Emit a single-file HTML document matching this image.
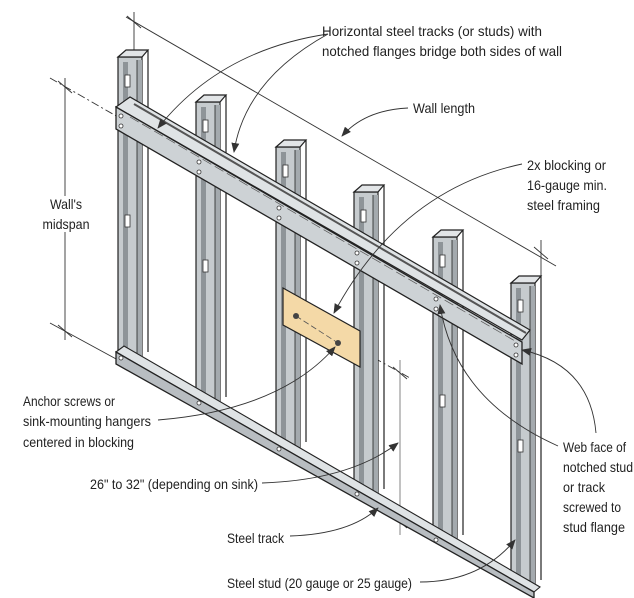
<!DOCTYPE html>
<html><head><meta charset="utf-8"><style>
html,body{margin:0;padding:0;background:#fff;}
svg{display:block;}
text{font-family:"Liberation Sans",sans-serif;font-size:14px;fill:#222;}
</style></head><body>
<svg width="634" height="598" viewBox="0 0 634 598" xmlns="http://www.w3.org/2000/svg">
<defs>
<marker id="ah" markerWidth="10" markerHeight="8" refX="9" refY="4" orient="auto" markerUnits="userSpaceOnUse">
<path d="M0,0 L10,4 L0,8 Z" fill="#333"/>
</marker>
</defs>

<g stroke="#333" stroke-width="0.9" fill="none">
<line x1="126" y1="17" x2="556" y2="266"/>
<line x1="134" y1="12" x2="134" y2="55"/>
<line x1="127" y1="16" x2="141" y2="28"/>
<line x1="541" y1="240" x2="541" y2="283"/>
<line x1="534" y1="247" x2="548" y2="259"/>
<line x1="65" y1="78" x2="65" y2="196"/>
<line x1="65" y1="232" x2="65" y2="340"/>
<line x1="58" y1="81" x2="72" y2="93"/>
<line x1="58" y1="325" x2="72" y2="337"/>
<line x1="50" y1="323" x2="118" y2="360"/>
<line x1="400" y1="360" x2="400" y2="535" stroke="#777"/>
<line x1="393" y1="367" x2="407" y2="379"/>
<line x1="393" y1="516" x2="407" y2="528"/>
</g>
<g stroke="#333" stroke-width="0.9" fill="none" stroke-dasharray="8,3,2,3">
<line x1="50" y1="78" x2="118" y2="117"/>
<line x1="360" y1="350" x2="410" y2="378"/>
</g>

<g stroke="#222" stroke-width="1.2">
<g>
<rect x="118" y="57" width="24" height="300" fill="#c6cbce"/>
<rect x="123" y="62" width="5" height="295" fill="#8e9498" stroke="none"/>
<rect x="137" y="60" width="5" height="297" fill="#a4aaae" stroke="none"/>
<line x1="137" y1="60" x2="137" y2="357" stroke-width="0.8"/>
<polygon points="118,57 126,50 148,50 142,57" fill="#e2e5e7"/>
<line x1="148" y1="50" x2="148" y2="352"/>
</g>
<g>
<rect x="196" y="102" width="24" height="300" fill="#c6cbce"/>
<rect x="201" y="107" width="5" height="295" fill="#8e9498" stroke="none"/>
<rect x="215" y="105" width="5" height="297" fill="#a4aaae" stroke="none"/>
<line x1="215" y1="105" x2="215" y2="402" stroke-width="0.8"/>
<polygon points="196,102 204,95 226,95 220,102" fill="#e2e5e7"/>
<line x1="226" y1="95" x2="226" y2="397"/>
</g>
<g>
<rect x="276" y="147" width="24" height="300" fill="#c6cbce"/>
<rect x="281" y="152" width="5" height="295" fill="#8e9498" stroke="none"/>
<rect x="295" y="150" width="5" height="297" fill="#a4aaae" stroke="none"/>
<line x1="295" y1="150" x2="295" y2="447" stroke-width="0.8"/>
<polygon points="276,147 284,140 306,140 300,147" fill="#e2e5e7"/>
<line x1="306" y1="140" x2="306" y2="442"/>
</g>
<g>
<rect x="354" y="192" width="24" height="302" fill="#c6cbce"/>
<rect x="359" y="197" width="5" height="297" fill="#8e9498" stroke="none"/>
<rect x="373" y="195" width="5" height="299" fill="#a4aaae" stroke="none"/>
<line x1="373" y1="195" x2="373" y2="494" stroke-width="0.8"/>
<polygon points="354,192 362,185 384,185 378,192" fill="#e2e5e7"/>
<line x1="384" y1="185" x2="384" y2="489"/>
</g>
<g>
<rect x="433" y="237" width="24" height="303" fill="#c6cbce"/>
<rect x="438" y="242" width="5" height="298" fill="#8e9498" stroke="none"/>
<rect x="452" y="240" width="5" height="300" fill="#a4aaae" stroke="none"/>
<line x1="452" y1="240" x2="452" y2="540" stroke-width="0.8"/>
<polygon points="433,237 441,230 463,230 457,237" fill="#e2e5e7"/>
<line x1="463" y1="230" x2="463" y2="535"/>
</g>
<g>
<rect x="511" y="283" width="24" height="302" fill="#c6cbce"/>
<rect x="516" y="288" width="5" height="297" fill="#8e9498" stroke="none"/>
<rect x="530" y="286" width="5" height="299" fill="#a4aaae" stroke="none"/>
<line x1="530" y1="286" x2="530" y2="585" stroke-width="0.8"/>
<polygon points="511,283 519,276 541,276 535,283" fill="#e2e5e7"/>
<line x1="541" y1="276" x2="541" y2="580"/>
</g>
</g>
<g fill="#fff" stroke="#333" stroke-width="0.8">
<rect x="125" y="75" width="5" height="12"/><rect x="125" y="215" width="5" height="12"/>
<rect x="203" y="120" width="5" height="12"/><rect x="203" y="260" width="5" height="12"/>
<rect x="283" y="165" width="5" height="12"/>
<rect x="361" y="210" width="5" height="12"/>
<rect x="440" y="255" width="5" height="12"/><rect x="440" y="395" width="5" height="12"/>
<rect x="518" y="300" width="5" height="12"/><rect x="518" y="440" width="5" height="12"/>
</g>

<polygon points="116,107 130,97 530,330 522,340" fill="#dfe3e5" stroke="#222" stroke-width="1.2"/>
<line x1="134" y1="104" x2="526" y2="333" stroke="#555" stroke-width="2"/>
<polygon points="116,107 522,342 522,364 116,129" fill="#cdd2d5" stroke="#222" stroke-width="1.3"/>
<line x1="130" y1="117" x2="515" y2="341" stroke="#555" stroke-width="0.7" stroke-dasharray="10,4"/>
<polygon points="116,352 124,346 540,587 534,592" fill="#dfe3e5" stroke="#222" stroke-width="1.1"/>
<polygon points="116,352 534,592 534,598 116,364" fill="#b8bdc1" stroke="#222" stroke-width="1.3"/>
<g fill="#fff" stroke="#333" stroke-width="0.8">
<circle cx="121" cy="116" r="2"/><circle cx="121" cy="126" r="2"/>
<circle cx="199" cy="162" r="2"/><circle cx="199" cy="172" r="2"/>
<circle cx="279" cy="208" r="2"/><circle cx="279" cy="218" r="2"/>
<circle cx="357" cy="253" r="2"/><circle cx="357" cy="263" r="2"/>
<circle cx="436" cy="299" r="2"/><circle cx="436" cy="309" r="2"/>
<circle cx="516" cy="345" r="2"/><circle cx="516" cy="355" r="2"/>
<circle cx="121" cy="358" r="2"/><circle cx="199" cy="403" r="2"/><circle cx="279" cy="449" r="2"/><circle cx="357" cy="494" r="2"/><circle cx="436" cy="540" r="2"/>
</g>

<polygon points="283,288 360,331 360,367 283,325" fill="#f4d9a7" stroke="#222" stroke-width="1.2"/>
<line x1="296" y1="316" x2="338" y2="343" stroke="#555" stroke-width="0.8" stroke-dasharray="6,3"/>
<circle cx="296" cy="316" r="3" fill="#444"/><circle cx="338" cy="343" r="3" fill="#444"/>

<g stroke="#333" stroke-width="0.9" fill="none" marker-end="url(#ah)">
<path d="M328,34 Q220,50 158,128"/>
<path d="M328,34 Q245,80 234,152"/>
<path d="M408,108 Q365,110 342,136"/>
<path d="M522,164 Q400,190 334,313"/>
<path d="M158,420 Q280,410 335,347"/>
<path d="M262,483 Q350,480 398,443"/>
<path d="M290,536 Q350,534 378,508"/>
<path d="M420,582 Q480,582 515,540"/>
<path d="M558,446 Q455,400 440,305"/>
<path d="M596,433 Q590,365 522,350"/>
</g>

<text x="322" y="36" textLength="220" lengthAdjust="spacingAndGlyphs">Horizontal steel tracks (or studs) with</text>
<text x="322" y="56" textLength="240" lengthAdjust="spacingAndGlyphs">notched flanges bridge both sides of wall</text>
<text x="413" y="113" textLength="62" lengthAdjust="spacingAndGlyphs">Wall length</text>
<text x="527" y="170" textLength="79" lengthAdjust="spacingAndGlyphs">2x blocking or</text>
<text x="527" y="190" textLength="80" lengthAdjust="spacingAndGlyphs">16-gauge min.</text>
<text x="527" y="210" textLength="73" lengthAdjust="spacingAndGlyphs">steel framing</text>
<text x="66" y="209" text-anchor="middle" textLength="32" lengthAdjust="spacingAndGlyphs">Wall's</text>
<text x="66" y="229" text-anchor="middle" textLength="47" lengthAdjust="spacingAndGlyphs">midspan</text>
<text x="23" y="406" textLength="92" lengthAdjust="spacingAndGlyphs">Anchor screws or</text>
<text x="23" y="426" textLength="128" lengthAdjust="spacingAndGlyphs">sink-mounting hangers</text>
<text x="23" y="447" textLength="111" lengthAdjust="spacingAndGlyphs">centered in blocking</text>
<text x="90" y="489" textLength="168" lengthAdjust="spacingAndGlyphs">26" to 32" (depending on sink)</text>
<text x="227" y="543" textLength="57" lengthAdjust="spacingAndGlyphs">Steel track</text>
<text x="227" y="588" textLength="185" lengthAdjust="spacingAndGlyphs">Steel stud (20 gauge or 25 gauge)</text>
<text x="563" y="452" textLength="63" lengthAdjust="spacingAndGlyphs">Web face of</text>
<text x="563" y="472" textLength="70" lengthAdjust="spacingAndGlyphs">notched stud</text>
<text x="563" y="492" textLength="42" lengthAdjust="spacingAndGlyphs">or track</text>
<text x="563" y="512" textLength="58" lengthAdjust="spacingAndGlyphs">screwed to</text>
<text x="563" y="532" textLength="62" lengthAdjust="spacingAndGlyphs">stud flange</text>
</svg>
</body></html>
